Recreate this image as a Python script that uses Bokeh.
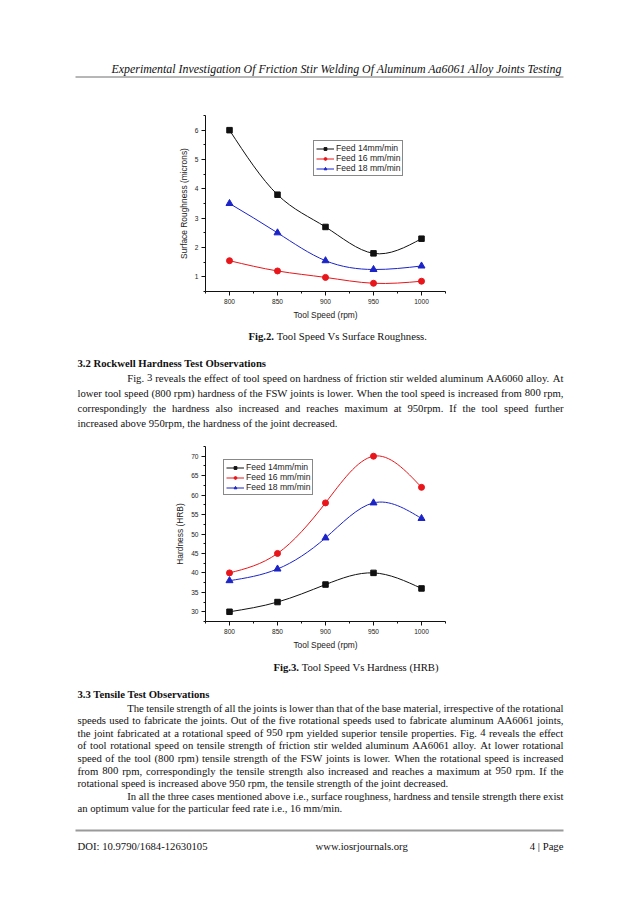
import numpy as np
from bokeh.plotting import figure
from bokeh.models import ColumnDataSource, Range1d, FixedTicker, Legend, LegendItem
from bokeh.layouts import column
from bokeh.core.properties import value
from bokeh.embed import file_html
from bokeh.resources import INLINE

# ---------------- data ----------------
tool_speed = [800, 850, 900, 950, 1000]
x_ticks = [800, 850, 900, 950, 1000]
x_minor_ticks = [775, 825, 875, 925, 975, 1025]

series_names = ["Feed 14mm/min", "Feed 16 mm/min", "Feed 18 mm/min"]

roughness_feed14 = [6.0, 3.8, 2.7, 1.8, 2.3]
roughness_feed16 = [1.55, 1.2, 0.98, 0.78, 0.85]
roughness_feed18 = [3.5, 2.5, 1.55, 1.25, 1.37]
roughness_ticks = [1, 2, 3, 4, 5, 6]
roughness_minor = [0.5, 1.5, 2.5, 3.5, 4.5, 5.5, 6.5]

hardness_feed14 = [30, 32.5, 37, 40, 36]
hardness_feed16 = [40, 45, 58, 70, 62]
hardness_feed18 = [38, 41, 49, 58, 54]
hardness_ticks = [30, 35, 40, 45, 50, 55, 60, 65, 70]
hardness_minor = [27.5, 32.5, 37.5, 42.5, 47.5, 52.5, 57.5, 62.5, 67.5, 72.5]

header_text = "Experimental Investigation Of Friction Stir Welding Of Aluminum Aa6061 Alloy Joints Testing"
fig2_caption = ("Fig.2.", "Tool Speed Vs Surface Roughness.")
fig3_caption = ("Fig.3.", "Tool Speed Vs Hardness (HRB)")
heading_32 = "3.2 Rockwell Hardness Test Observations"
para_32 = [
    "Fig. 3 reveals the effect of tool speed on hardness of friction stir welded aluminum AA6060 alloy. At",
    "lower tool speed (800 rpm) hardness of the FSW joints is lower. When the tool speed is increased from 800 rpm,",
    "correspondingly the hardness also increased and reaches maximum at 950rpm. If the tool speed further",
    "increased above 950rpm, the hardness of the joint decreased.",
]
heading_33 = "3.3 Tensile Test Observations"
para_33a = [
    "The tensile strength of all the joints is lower than that of the base material, irrespective of the rotational",
    "speeds used to fabricate the joints. Out of the five rotational speeds used to fabricate aluminum AA6061 joints,",
    "the joint fabricated at a rotational speed of 950 rpm yielded superior tensile properties. Fig. 4 reveals the effect",
    "of tool rotational speed on tensile strength of friction stir welded aluminum AA6061 alloy. At lower rotational",
    "speed of the tool (800 rpm) tensile strength of the FSW joints is lower. When the rotational speed is increased",
    "from 800 rpm, correspondingly the tensile strength also increased and reaches a maximum at 950 rpm. If the",
    "rotational speed is increased above 950 rpm, the tensile strength of the joint decreased.",
]
para_33b = [
    "In all the three cases mentioned above i.e., surface roughness, hardness and tensile strength there exist",
    "an optimum value for the particular feed rate i.e., 16 mm/min.",
]
footer_left = "DOI: 10.9790/1684-12630105"
footer_mid = "www.iosrjournals.org"
footer_right = "4 | Page"

# ---------------- font metrics (Times) ----------------
ROMAN = {" ": 250, "!": 333, "(": 333, ")": 333, ",": 250, "-": 333, ".": 250, "/": 278, ":": 278,
         ";": 278, "|": 200, "?": 444,
         "A": 722, "B": 667, "C": 667, "D": 722, "E": 611, "F": 556, "G": 722, "H": 722, "I": 333,
         "J": 389, "K": 722, "L": 611, "M": 889, "N": 722, "O": 722, "P": 556, "Q": 722, "R": 667,
         "S": 556, "T": 611, "U": 722, "V": 722, "W": 944, "X": 722, "Y": 722, "Z": 611,
         "a": 444, "b": 500, "c": 444, "d": 500, "e": 444, "f": 333, "g": 500, "h": 500, "i": 278,
         "j": 278, "k": 500, "l": 278, "m": 778, "n": 500, "o": 500, "p": 500, "q": 500, "r": 333,
         "s": 389, "t": 278, "u": 500, "v": 500, "w": 722, "x": 500, "y": 500, "z": 444}
for d in "0123456789":
    ROMAN[d] = 500
BOLD = dict(ROMAN)
BOLD.update({"F": 611, "R": 722, "H": 778, "T": 667, "O": 778, "a": 500, "b": 556, "d": 556,
             "h": 556, "j": 333, "k": 556, "m": 833, "n": 556, "p": 556, "q": 556, "r": 444,
             "t": 333, "u": 556, ":": 333})

FS = 10.7
SERIF = "Liberation Serif"
PAGE_W = 622


def tw(s, table, fs=FS):
    return sum(table.get(c, 500) for c in s) * fs / 1000.0


# ---------------- text helpers ----------------
class TextBlock:
    def __init__(self):
        self.d = {"normal": ([], [], []), "bold": ([], [], []), "italic": ([], [], [])}

    def add(self, x, y, t, style="normal"):
        xs, ys, ts = self.d[style]
        xs.append(x); ys.append(y); ts.append(t)

    def line(self, text, x0, x1, y, justify):
        if not justify:
            self.add(x0, y, text)
            return
        words = text.split(" ")
        widths = [tw(w, ROMAN) for w in words]
        gap = (x1 - x0 - sum(widths)) / (len(words) - 1)
        x = x0
        for w, wd in zip(words, widths):
            self.add(x, y, w)
            x += wd + gap

    def draw(self, p, size=FS):
        for style, (xs, ys, ts) in self.d.items():
            if not xs:
                continue
            p.text(x=xs, y=ys, text=ts, text_font=value(SERIF), text_font_size=f"{size}px",
                   text_font_style=style, text_baseline="middle", text_align="left",
                   text_color="#111111")


def text_fig(y_top, y_bot):
    p = figure(width=PAGE_W, height=y_bot - y_top, x_range=Range1d(0, PAGE_W),
               y_range=Range1d(y_bot, y_top), output_backend="svg", toolbar_location=None,
               x_axis_type=None, y_axis_type=None, min_border=0, outline_line_color=None,
               frame_align=False)
    p.min_border_left = p.min_border_right = p.min_border_top = p.min_border_bottom = 0
    p.grid.visible = False
    return p


LEFT, RIGHT, INDENT = 77.0, 563.0, 126.7

# ---------------- spline -> bezier ----------------
def spline_beziers(xs, ys):
    x = np.asarray(xs, float); y = np.asarray(ys, float)
    n = len(x); h = np.diff(x)
    A = np.zeros((n, n)); b = np.zeros(n)
    A[0, 0] = 1; A[-1, -1] = 1
    for i in range(1, n - 1):
        A[i, i - 1] = h[i - 1]; A[i, i] = 2 * (h[i - 1] + h[i]); A[i, i + 1] = h[i]
        b[i] = 6 * ((y[i + 1] - y[i]) / h[i] - (y[i] - y[i - 1]) / h[i - 1])
    M = np.linalg.solve(A, b)
    dv = np.zeros(n)
    for i in range(n - 1):
        dv[i] = (y[i + 1] - y[i]) / h[i] - h[i] * (2 * M[i] + M[i + 1]) / 6
    dv[-1] = (y[-1] - y[-2]) / h[-1] + h[-1] * (M[-2] + 2 * M[-1]) / 6
    return ColumnDataSource(dict(
        x0=x[:-1], y0=y[:-1], x1=x[1:], y1=y[1:],
        cx0=x[:-1] + h / 3, cy0=y[:-1] + dv[:-1] * h / 3,
        cx1=x[1:] - h / 3, cy1=y[1:] - dv[1:] * h / 3))


COLORS = ["#111111", "#e8161b", "#1c24c8"]
MARKERS = [("square", 5.5), ("circle", 6), ("triangle", 7)]


def chart(height, top_border, bottom_border, yr, yticks, yminor, ylabel, series, legend_loc):
    p = figure(width=PAGE_W, height=height, x_range=Range1d(775, 1025), y_range=Range1d(*yr),
               output_backend="svg", toolbar_location=None, outline_line_color=None,
               min_border_left=205, min_border_right=PAGE_W - 445, min_border_top=top_border,
               min_border_bottom=bottom_border, frame_align=False)
    p.grid.visible = False
    p.xaxis.ticker = FixedTicker(ticks=x_ticks, minor_ticks=x_minor_ticks)
    p.yaxis.ticker = FixedTicker(ticks=yticks, minor_ticks=yminor)
    p.xaxis.axis_label = "Tool Speed (rpm)"
    p.yaxis.axis_label = ylabel
    for ax in (p.xaxis[0], p.yaxis[0]):
        ax.axis_line_color = "#111111"
        ax.major_tick_line_color = "#111111"
        ax.minor_tick_line_color = "#111111"
        ax.major_tick_out = 4; ax.major_tick_in = 0
        ax.minor_tick_out = 2; ax.minor_tick_in = 0
        ax.major_label_text_font = "Liberation Sans"
        ax.major_label_text_font_size = "6.6px"
        ax.major_label_text_color = "#222222"
        ax.major_label_standoff = 3
        ax.axis_label_text_font = "Liberation Sans"
        ax.axis_label_text_font_size = "8.4px"
        ax.axis_label_text_font_style = "normal"
        ax.axis_label_text_color = "#222222"
    p.xaxis.axis_label_standoff = 3
    p.yaxis.axis_label_standoff = 3
    items = []
    for name, vals, color, (mk, sz) in zip(series_names, series, COLORS, MARKERS):
        r1 = p.bezier(x0="x0", y0="y0", x1="x1", y1="y1", cx0="cx0", cy0="cy0", cx1="cx1",
                      cy1="cy1", source=spline_beziers(tool_speed, vals), line_color=color,
                      line_width=1)
        r2 = p.scatter(tool_speed, vals, marker=mk, size=sz, color=color)
        items.append(LegendItem(label=name, renderers=[r1, r2]))
    leg = Legend(items=items, location=legend_loc, border_line_color="#111111",
                 border_line_width=1, background_fill_color="white", background_fill_alpha=1,
                 label_text_font="Liberation Sans", label_text_font_size="8.6px",
                 label_text_color="#222222", glyph_width=18, glyph_height=7, label_height=7,
                 spacing=0, padding=2, margin=0, label_standoff=2)
    p.add_layout(leg)
    return p


# page is laid out from y = 0 at the top of the first figure
Y_TOP_END, Y_C1_END, Y_MID_END, Y_C2_END, Y_BOT_END = 88, 326, 430, 656, 887

# ---------------- page top ----------------
top = text_fig(0, Y_TOP_END)
top.text(x=[111], y=[68], text=[header_text], text_font=value(SERIF), text_font_size="11.9px",
         text_font_style="italic", text_baseline="middle", text_color="#111111")
top.segment(x0=[75], y0=[76.5], x1=[563], y1=[76.5], line_color="#6f6f6f", line_width=1)

# ---------------- chart 1 ----------------
c1 = chart(Y_C1_END - Y_TOP_END, 115 - Y_TOP_END, Y_C1_END - 291, (0.5, 6.5), roughness_ticks,
           roughness_minor, "Surface Roughness (microns)",
           [roughness_feed14, roughness_feed16, roughness_feed18], (108, 115))

# ---------------- middle text ----------------
mid = text_fig(Y_C1_END, Y_MID_END)
mb = TextBlock()
mb.add(248, 335, fig2_caption[0], "bold")
mb.add(248 + tw(fig2_caption[0] + " ", BOLD), 335, fig2_caption[1])
mb.add(LEFT, 362, heading_32, "bold")
for i, ln in enumerate(para_32):
    mb.line(ln, INDENT if i == 0 else LEFT, RIGHT, 377 + 15.1 * i, i < len(para_32) - 1)
mb.draw(mid)

# ---------------- chart 2 ----------------
c2 = chart(Y_C2_END - Y_MID_END, 446 - Y_MID_END, Y_C2_END - 621, (27.5, 72.5), hardness_ticks,
           hardness_minor, "Hardness (HRB)",
           [hardness_feed14, hardness_feed16, hardness_feed18], (18, 126))

# ---------------- bottom text ----------------
bot = text_fig(Y_C2_END, Y_BOT_END)
bb = TextBlock()
bb.add(273, 666, fig3_caption[0], "bold")
bb.add(273 + tw(fig3_caption[0] + " ", BOLD), 666, fig3_caption[1])
bb.add(LEFT, 693, heading_33, "bold")
y = 707.0
step = 12.6
for i, ln in enumerate(para_33a):
    bb.line(ln, INDENT if i == 0 else LEFT, RIGHT, y, i < len(para_33a) - 1)
    y += step
for i, ln in enumerate(para_33b):
    bb.line(ln, INDENT if i == 0 else LEFT, RIGHT, y, i < len(para_33b) - 1)
    y += step
bb.add(LEFT, 845, footer_left)
bb.add(315, 845, footer_mid)
bb.add(RIGHT - tw(footer_right, ROMAN), 845, footer_right)
bb.draw(bot)
bot.segment(x0=[75], y0=[830], x1=[563], y1=[830], line_color="#9a9a9a", line_width=2)

page = column(top, c1, mid, c2, bot, spacing=0)
open("out.html", "w").write(file_html(page, INLINE))
